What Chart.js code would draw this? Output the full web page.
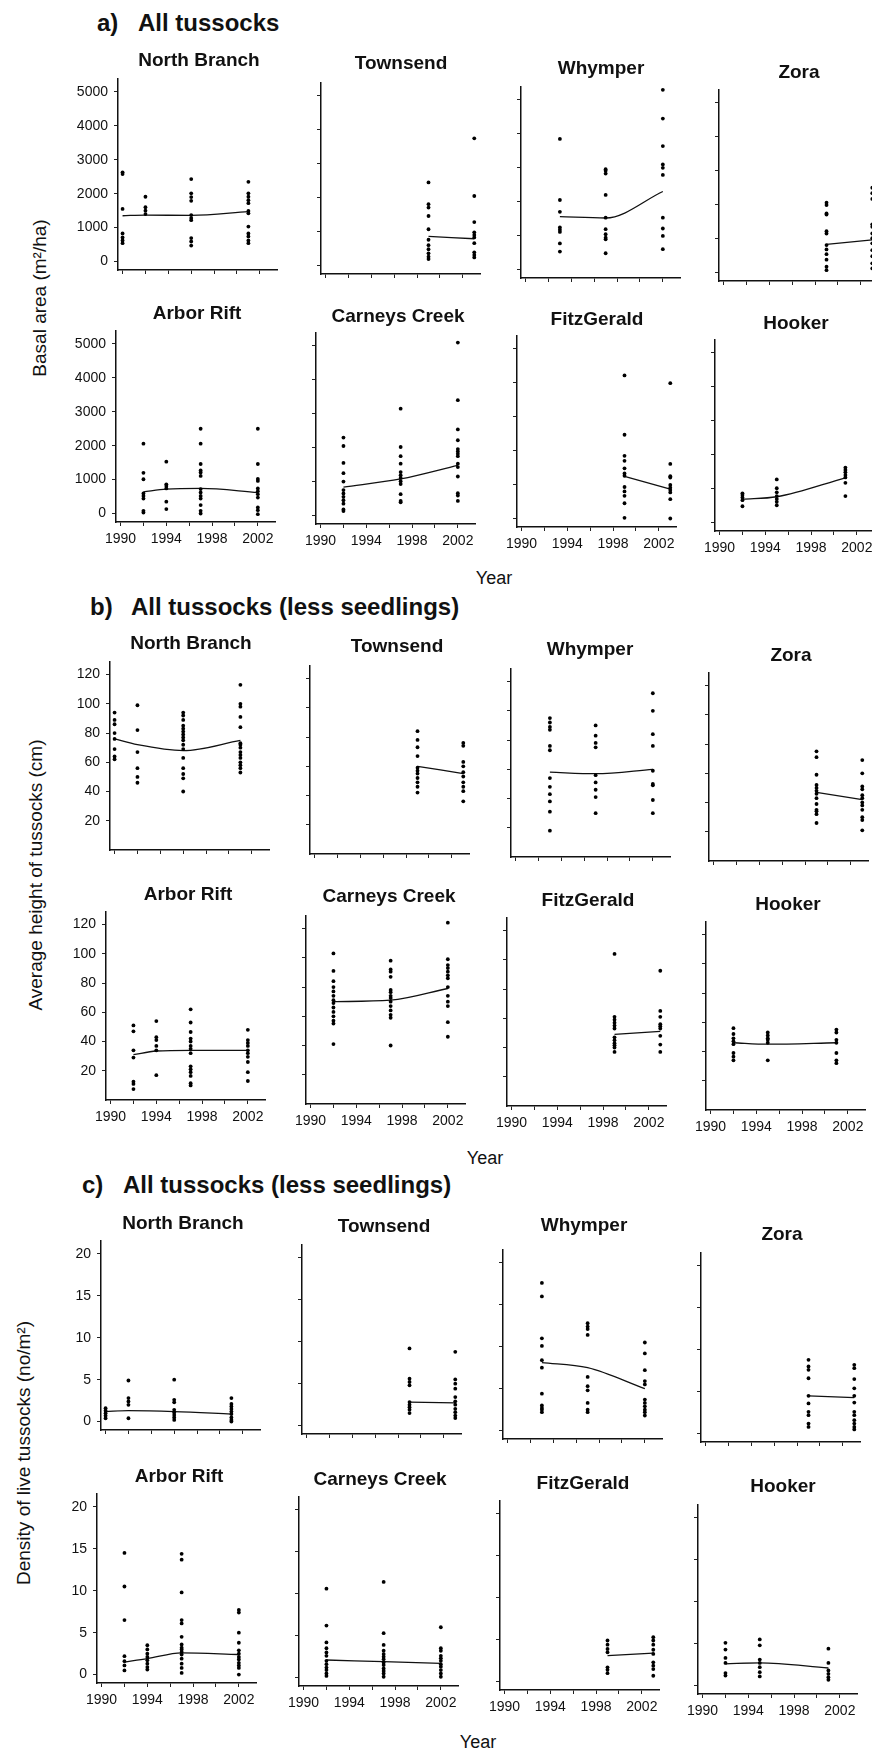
<!DOCTYPE html>
<html>
<head>
<meta charset="utf-8">
<script src="https://cdn.jsdelivr.net/npm/chart.js@4.4.0/dist/chart.umd.min.js"></script>
<style>
  body { margin: 0; background: #fff; overflow: hidden; }
  #page { position: relative; width: 872px; height: 1752px; overflow: hidden; background: #fff;
          font-family: "Liberation Sans", Arial, sans-serif; color: #111; }
  #page canvas { position: absolute; }
  .txt { position: absolute; white-space: nowrap; line-height: 1; }
  .heading { font-weight: bold; font-size: 24px; }
  .site { font-weight: bold; font-size: 19px; transform: translate(-50%, -50%); }
  .ytitle { font-size: 19px; transform: translate(-50%, -50%) rotate(-90deg); }
  .xtitle { font-size: 18px; transform: translate(-50%, -50%); }
</style>
</head>
<body>
<div id="page"></div>
<script>
// survey years for each site
const nbYears = [1990, 1992, 1996, 2001];
const tsYears = [1999, 2003];
const whYears = [1993, 1997, 2002];
const zoYears = [1999, 2003];
const arYears = [1992, 1994, 1997, 2002];
const ccYears = [1992, 1997, 2002];
const fgYears = [1999, 2003];
const hkYears = [1992, 1995, 2001];

// axis ticks
const yearTicks = [1990, 1992, 1994, 1996, 1998, 2000, 2002];
const basalTicks = [0, 1000, 2000, 3000, 4000, 5000];
const heightTicks = [20, 40, 60, 80, 100, 120];
const densityTicks = [0, 5, 10, 15, 20];

// a) basal area (m2/ha), one list of plots per survey year, plus fitted trend
const nbBasal = [[2630, 2580, 1550, 830, 710, 620, 540], [1910, 1600, 1500, 1400],
  [2430, 2010, 1900, 1790, 1370, 1280, 1220, 690, 590, 470],
  [2350, 2010, 1910, 1810, 1720, 1490, 1420, 1030, 830, 740, 620, 540]];
const nbBasalFit = [1350, 1370, 1360, 1470];
const tsBasal = [[2450, 1810, 1710, 1460, 1070, 760, 600, 480, 360, 260, 190],
  [3750, 2050, 1280, 980, 900, 830, 660, 390, 310, 240]];
const tsBasalFit = [860, 790];
const whBasal = [[3850, 2050, 1700, 1240, 1170, 1110, 770, 530],
  [2960, 2910, 2830, 2200, 1530, 1190, 1040, 940, 890, 480],
  [5300, 4450, 3640, 3100, 3000, 2790, 1530, 1210, 990, 600]];
const whBasalFit = [1560, 1520, 2300];
const zoBasal = [[2060, 1990, 1740, 1710, 1220, 1150, 810, 680, 540, 380, 170, 70],
  [2500, 2340, 2170, 1420, 1350, 1150, 1010, 860, 660, 480, 270, 120]];
const zoBasalFit = [830, 960];
const arBasal = [[2060, 1200, 1010, 590, 520, 440, 80, 30], [1530, 860, 810, 740, 350, 130],
  [2500, 2060, 1460, 1270, 1210, 1110, 720, 620, 520, 440, 250, 80, 0],
  [2500, 1460, 1020, 960, 740, 660, 570, 470, 180, 100, -20]];
const arBasalFit = [640, 720, 740, 620];
const ccBasal = [[2300, 2050, 1550, 1250, 1000, 750, 650, 550, 450, 350, 180, 130],
  [3150, 2020, 1750, 1530, 1280, 1190, 1110, 1010, 930, 630, 430, 390],
  [5100, 3400, 2540, 2220, 1960, 1890, 1820, 1750, 1530, 1430, 1150, 660, 590, 430]];
const ccBasalFit = [840, 1080, 1480];
const fgBasal = [[4220, 2470, 1850, 1700, 1480, 1330, 1260, 930, 800, 670, 450, 20],
  [3990, 1610, 1250, 1210, 990, 910, 840, 770, 570, 0]];
const fgBasalFit = [1240, 870];
const hkBasal = [[860, 810, 740, 660, 480], [1270, 1010, 890, 780, 690, 610, 510],
  [1620, 1550, 1480, 1400, 1330, 1170, 780]];
const hkBasalFit = [690, 760, 1320];

// b) average tussock height (cm)
const nbHeight = [[94, 89, 86, 80, 76, 69, 64, 62], [99, 82, 67, 56, 50, 46],
  [94, 92, 89, 85, 83, 81, 79, 77, 75, 72, 69, 63, 56, 52, 49, 40],
  [113, 100, 98, 91, 84, 73, 72, 70, 67, 65, 63, 60, 58, 56, 53]];
const nbHeightFit = [76, 72, 68, 75];
const tsHeight = [[84, 78, 73, 67, 59, 57, 55, 52, 49, 46, 42], [76, 74, 63, 60, 56, 53, 49, 46, 43, 36]];
const tsHeightFit = [60, 55];
const whHeight = [[95, 92, 89, 87, 76, 73, 54, 48, 43, 38, 31, 18], [90, 83, 78, 75, 56, 51, 46, 41, 30],
  [112, 100, 84, 76, 59, 50, 49, 39, 30]];
const whHeightFit = [58, 57, 60];
const zoHeight = [[75, 71, 59, 52, 50, 48, 46, 43, 39, 35, 34, 32, 26],
  [69, 60, 51, 49, 45, 43, 40, 38, 35, 30, 28, 21]];
const zoHeightFit = [47, 42];
const arHeight = [[51, 47, 34, 29, 12.5, 11, 7.5], [54, 43, 41, 37, 34, 17],
  [62, 53, 46.5, 42, 40, 37, 35, 32, 23, 21, 19, 16.5, 11.5, 10],
  [48, 41, 39, 37, 34, 32, 29.5, 26, 19, 13]];
const arHeightFit = [31, 33.5, 34, 34];
const ccHeight = [[103, 91, 84, 80, 77, 74, 71, 69, 66, 63, 60, 57, 55, 41],
  [98, 92, 90.5, 87, 78, 76.5, 74, 72.5, 70, 67, 64, 61, 59, 40],
  [124, 99, 95, 93, 90.5, 88, 86, 80, 74, 70, 67, 56, 46]];
const ccHeightFit = [70, 71, 79];
const fgHeight = [[104, 61, 59, 57, 55, 53, 47, 45, 43, 41.5, 40, 37], [92.5, 65, 61, 56, 54.5, 53, 48, 42, 37]];
const fgHeightFit = [49, 51];
const hkHeight = [[56, 52, 49, 47, 45, 39, 36.5, 34], [53, 51, 49, 48, 46, 34], [55, 53, 48, 46, 39, 34, 32]];
const hkHeightFit = [46, 45, 46];

// c) density of live tussocks (no/m2)
const nbDensity = [[1.6, 1.3, 1.0, 0.7, 0.4], [4.9, 2.8, 2.4, 2.0, 0.4],
  [5.0, 2.6, 2.3, 1.4, 1.1, 0.8, 0.5, 0.2], [2.8, 2.1, 1.8, 1.5, 1.2, 0.9, 0.5, 0.2, 0]];
const nbDensityFit = [1.2, 1.3, 1.2, 0.9];
const tsDensity = [[9.2, 5.6, 5.2, 4.8, 2.8, 2.5, 2.2, 1.9, 1.5], [8.8, 5.5, 5.0, 4.4, 3.4, 2.9, 2.5, 2.0, 1.6, 1.2, 0.9]];
const tsDensityFit = [2.8, 2.7];
const whDensity = [[17.6, 16.0, 11.0, 10.1, 8.4, 7.5, 4.4, 3.0, 2.7, 2.5, 2.2],
  [22.0, 12.8, 12.4, 12.1, 11.4, 6.4, 5.3, 4.8, 3.3, 2.5, 2.2],
  [10.5, 9.2, 7.2, 5.9, 5.5, 3.7, 3.3, 2.9, 2.5, 2.2, 1.8]];
const whDensityFit = [8.1, 7.5, 5.0];
const zoDensity = [[8.8, 8.0, 7.6, 6.6, 4.5, 3.6, 2.6, 2.2, 1.2, 0.8], [8.2, 7.8, 6.5, 5.4, 4.5, 3.7, 2.6, 2.2, 1.6, 1.2, 0.8, 0.5]];
const zoDensityFit = [4.5, 4.3];
const arDensity = [[14.5, 10.5, 6.5, 2.2, 1.6, 1.1, 0.5], [3.5, 3.0, 2.5, 2.1, 1.7, 1.3, 0.9, 0.6],
  [14.4, 13.7, 9.8, 6.5, 6.1, 4.5, 3.6, 3.2, 3.0, 2.7, 2.4, 1.9, 1.3, 0.8, 0.2],
  [7.7, 7.4, 5.0, 3.8, 2.9, 2.5, 2.1, 1.8, 1.4, 1.1, 0.8, 0]];
const arDensityFit = [1.5, 1.9, 2.6, 2.4];
const ccDensity = [[10.6, 6.2, 4.2, 3.5, 3.0, 2.6, 2.0, 1.6, 1.2, 0.9, 0.5, 0.2],
  [11.4, 5.3, 3.9, 3.2, 2.8, 2.5, 2.2, 1.8, 1.5, 1.1, 0.8, 0.5, 0.1],
  [6.0, 3.5, 3.2, 2.6, 2.3, 2.0, 1.6, 1.3, 0.9, 0.5, 0.1]];
const ccDensityFit = [2.1, 1.9, 1.7];
const fgDensity = [[4.9, 4.4, 3.9, 3.5, 1.7, 1.4, 1.0], [5.3, 4.9, 4.4, 3.8, 3.3, 2.3, 1.9, 1.5, 0.7]];
const fgDensityFit = [3.1, 3.4];
const hkDensity = [[5.1, 4.3, 3.3, 2.7, 1.5, 1.2], [5.5, 4.8, 3.1, 2.7, 2.2, 1.6, 1.1], [4.4, 2.7, 1.8, 1.4, 1.0, 0.7]];
const hkDensityFit = [2.6, 2.7, 2.1];

const FONT = '"Liberation Sans", Arial, sans-serif';
const X_MIN = 1989.6, X_MAX = 2003.5;
const PLOT_W = 159;
const PAD_L = 62, PAD_R = 10, PAD_T = 14, PAD_B = 36;

// three blocks of eight sites; left/bottom give where each plot area sits on the page
const sections = [
  { mark: 'a)', heading: 'All tussocks', markX: 97, headX: 138, headY: 23,
    yTitle: 'Basal area (m²/ha)', yTitleX: 39, yTitleY: 298, yearX: 494, yearY: 578,
    height: 192, yMin: -250, yMax: 5400, yTicks: basalTicks,
    panels: [
      { name: 'North Branch', years: nbYears, values: nbBasal, fit: nbBasalFit, left: 118, bottom: 270, tx: 199, ty: 59 },
      { name: 'Townsend', years: tsYears, values: tsBasal, fit: tsBasalFit, left: 321, bottom: 274, tx: 401, ty: 62 },
      { name: 'Whymper', years: whYears, values: whBasal, fit: whBasalFit, left: 521, bottom: 277.5, tx: 601, ty: 67 },
      { name: 'Zora', years: zoYears, values: zoBasal, fit: zoBasalFit, left: 718.5, bottom: 280.5, tx: 799, ty: 71 },
      { name: 'Arbor Rift', years: arYears, values: arBasal, fit: arBasalFit, left: 116, bottom: 522, tx: 197, ty: 312 },
      { name: 'Carneys Creek', years: ccYears, values: ccBasal, fit: ccBasalFit, left: 316, bottom: 524, tx: 398, ty: 315 },
      { name: 'FitzGerald', years: fgYears, values: fgBasal, fit: fgBasalFit, left: 517, bottom: 527, tx: 597, ty: 318 },
      { name: 'Hooker', years: hkYears, values: hkBasal, fit: hkBasalFit, left: 714.5, bottom: 531, tx: 796, ty: 322 }
    ] },
  { mark: 'b)', heading: 'All tussocks (less seedlings)', markX: 90, headX: 131, headY: 607,
    yTitle: 'Average height of tussocks (cm)', yTitleX: 35, yTitleY: 875, yearX: 485, yearY: 1158,
    height: 189, yMin: 0, yMax: 129, yTicks: heightTicks,
    panels: [
      { name: 'North Branch', years: nbYears, values: nbHeight, fit: nbHeightFit, left: 110, bottom: 850, tx: 191, ty: 642 },
      { name: 'Townsend', years: tsYears, values: tsHeight, fit: tsHeightFit, left: 310, bottom: 853.5, tx: 397, ty: 645 },
      { name: 'Whymper', years: whYears, values: whHeight, fit: whHeightFit, left: 511, bottom: 857, tx: 590, ty: 648 },
      { name: 'Zora', years: zoYears, values: zoHeight, fit: zoHeightFit, left: 709, bottom: 861, tx: 791, ty: 654 },
      { name: 'Arbor Rift', years: arYears, values: arHeight, fit: arHeightFit, left: 105.5, bottom: 1100, tx: 188, ty: 893 },
      { name: 'Carneys Creek', years: ccYears, values: ccHeight, fit: ccHeightFit, left: 306, bottom: 1103.5, tx: 389, ty: 895 },
      { name: 'FitzGerald', years: fgYears, values: fgHeight, fit: fgHeightFit, left: 507, bottom: 1106, tx: 588, ty: 899 },
      { name: 'Hooker', years: hkYears, values: hkHeight, fit: hkHeightFit, left: 705.5, bottom: 1110, tx: 788, ty: 903 }
    ] },
  { mark: 'c)', heading: 'All tussocks (less seedlings)', markX: 82, headX: 123, headY: 1185,
    yTitle: 'Density of live tussocks (no/m²)', yTitleX: 23, yTitleY: 1453, yearX: 478, yearY: 1742,
    height: 190, yMin: -1, yMax: 21.6, yTicks: densityTicks,
    panels: [
      { name: 'North Branch', years: nbYears, values: nbDensity, fit: nbDensityFit, left: 100.5, bottom: 1430, tx: 183, ty: 1222 },
      { name: 'Townsend', years: tsYears, values: tsDensity, fit: tsDensityFit, left: 302, bottom: 1434, tx: 384, ty: 1225 },
      { name: 'Whymper', years: whYears, values: whDensity, fit: whDensityFit, left: 503, bottom: 1438.5, tx: 584, ty: 1224 },
      { name: 'Zora', years: zoYears, values: zoDensity, fit: zoDensityFit, left: 700.5, bottom: 1441.5, tx: 782, ty: 1233 },
      { name: 'Arbor Rift', years: arYears, values: arDensity, fit: arDensityFit, left: 97, bottom: 1682.5, tx: 179, ty: 1475 },
      { name: 'Carneys Creek', years: ccYears, values: ccDensity, fit: ccDensityFit, left: 298.5, bottom: 1685.5, tx: 380, ty: 1478 },
      { name: 'FitzGerald', years: fgYears, values: fgDensity, fit: fgDensityFit, left: 499.5, bottom: 1689.5, tx: 583, ty: 1482 },
      { name: 'Hooker', years: hkYears, values: hkDensity, fit: hkDensityFit, left: 698, bottom: 1693.5, tx: 783, ty: 1485 }
    ] }
];

const page = document.getElementById('page');

function addText(cls, text, x, y) {
  // Places a piece of text on the page
  let el = document.createElement('div');
  el.className = 'txt ' + cls;
  el.textContent = text;
  el.style.left = x + 'px';
  el.style.top = y + 'px';
  page.appendChild(el);
  return el;
}

function drawPanel(sec, p, col, row) {
  // One site: dots for each plot and the smoothed trend through the years
  let w = PAD_L + PLOT_W + PAD_R;
  let h = PAD_T + sec.height + PAD_B;
  let canvas = document.createElement('canvas');
  canvas.width = w;
  canvas.height = h;
  canvas.style.width = w + 'px';
  canvas.style.height = h + 'px';
  canvas.style.left = (p.left - PAD_L) + 'px';
  canvas.style.top = (p.bottom - sec.height - PAD_T) + 'px';
  page.appendChild(canvas);

  let points = [];
  p.years.forEach((yr, i) => {
    p.values[i].forEach(v => points.push({ x: yr, y: v }));
  });
  let trend = p.fit.map((v, i) => ({ x: p.years[i], y: v }));

  let showY = col === 0;
  let showX = row === 1;

  new Chart(canvas, {
    type: 'scatter',
    data: {
      datasets: [
        { data: points, pointRadius: 1.9, pointHoverRadius: 1.9, backgroundColor: '#000', borderColor: '#000', borderWidth: 0, clip: false },
        { type: 'line', data: trend, borderColor: '#111', borderWidth: 1.3, pointRadius: 0,
          cubicInterpolationMode: 'monotone', fill: false }
      ]
    },
    options: {
      responsive: false,
      animation: false,
      layout: { padding: { top: PAD_T, right: PAD_R, left: 0, bottom: 0 } },
      plugins: { legend: { display: false }, tooltip: { enabled: false } },
      scales: {
        x: {
          type: 'linear', min: X_MIN, max: X_MAX,
          afterBuildTicks: s => { s.ticks = yearTicks.map(v => ({ value: v })); },
          afterFit: s => { s.height = PAD_B; },
          grid: { drawOnChartArea: false, drawTicks: true, tickLength: 4, color: '#222' },
          border: { display: true, color: '#111', width: 1.5 },
          ticks: {
            autoSkip: false, maxRotation: 0, padding: 5, color: '#111',
            font: { family: FONT, size: 14 },
            callback: v => (showX && (v - 1990) % 4 === 0) ? String(v) : ''
          }
        },
        y: {
          type: 'linear', min: sec.yMin, max: sec.yMax,
          afterBuildTicks: s => { s.ticks = sec.yTicks.map(v => ({ value: v })); },
          afterFit: s => { s.width = PAD_L; },
          grid: { drawOnChartArea: false, drawTicks: true, tickLength: 4, color: '#222' },
          border: { display: true, color: '#111', width: 1.5 },
          ticks: {
            autoSkip: false, padding: 6, color: '#111',
            font: { family: FONT, size: 14 },
            callback: v => showY ? String(v) : ''
          }
        }
      }
    }
  });

  addText('site', p.name, p.tx, p.ty);
}

sections.forEach(sec => {
  addText('heading', sec.mark, sec.markX, sec.headY - 12);
  addText('heading', sec.heading, sec.headX, sec.headY - 12);
  addText('ytitle', sec.yTitle, sec.yTitleX, sec.yTitleY);
  addText('xtitle', 'Year', sec.yearX, sec.yearY);
  sec.panels.forEach((p, i) => drawPanel(sec, p, i % 4, Math.floor(i / 4)));
});
</script>
</body>
</html>
